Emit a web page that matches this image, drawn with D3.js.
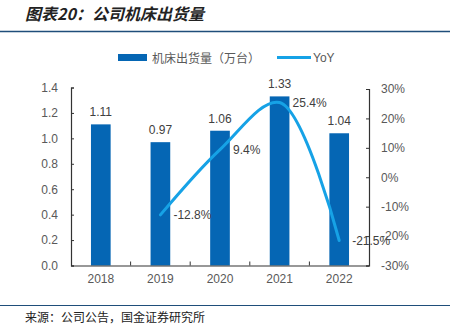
<!DOCTYPE html>
<html><head><meta charset="utf-8">
<script src="https://cdn.jsdelivr.net/npm/d3@7"></script>
<style>body{margin:0;background:#fff}svg{display:block}</style>
</head><body>
<svg id="c" width="450" height="326"></svg>
<script>
const years = ["2018","2019","2020","2021","2022"];
const shipments = [1.11, 0.97, 1.06, 1.33, 1.04];
const yoyYears = ["2019","2020","2021","2022"];
const yoy = [-12.8, 9.4, 25.4, -21.5];
const leftTicks = [0,0.2,0.4,0.6,0.8,1.0,1.2,1.4];
const rightTicks = [-30,-20,-10,0,10,20,30];
const title = "图表20：公司机床出货量";
const source = "来源：公司公告，国金证券研究所";
const legendBar = "机床出货量（万台）";
const legendLine = "YoY";

const svg = d3.select("#c");
const font = "'Liberation Sans', Arial, sans-serif";
const cjk = "'Noto Sans CJK SC', sans-serif";
const barColor = "#0566b4", lineColor = "#16a2e6", txt = "#595959";
const L = 71, R = 369, T = 87.5, B = 265.5;

svg.append("text").attr("x", 25).attr("y", 20).attr("font-family", cjk)
  .attr("font-size", 16).attr("font-weight", "bold").attr("font-style", "italic")
  .attr("fill", "#222").attr("transform", "skewX(0)").text(title);
svg.append("line").attr("x1", 0).attr("x2", 450).attr("y1", 31.5).attr("y2", 31.5)
  .attr("stroke", "#1f4e7a").attr("stroke-width", 1.5);
svg.append("line").attr("x1", 0).attr("x2", 450).attr("y1", 305.5).attr("y2", 305.5)
  .attr("stroke", "#1f4e7a").attr("stroke-width", 1.2);
svg.append("text").attr("x", 25).attr("y", 322).attr("font-family", cjk)
  .attr("font-size", 12).attr("fill", "#222").text(source);

const x = d3.scaleBand().domain(years).range([L, R]).paddingInner(0).paddingOuter(0);
const y = d3.scaleLinear().domain([0, 1.4]).range([B, T]);
const y2 = d3.scaleLinear().domain([-30, 30]).range([B, T + 1.5]);
const bw = x.bandwidth() * 0.33;

// bars
svg.selectAll("rect.bar").data(shipments).enter().append("rect")
  .attr("x", (d, i) => x(years[i]) + x.bandwidth() / 2 - bw / 2)
  .attr("y", d => y(d)).attr("width", bw).attr("height", d => y(0) - y(d))
  .attr("fill", barColor);
svg.selectAll("text.bl").data(shipments).enter().append("text")
  .attr("x", (d, i) => x(years[i]) + x.bandwidth() / 2)
  .attr("y", d => y(d) - 8).attr("text-anchor", "middle")
  .attr("font-family", font).attr("font-size", 12).attr("fill", "#404040")
  .text(d => d.toFixed(2));

// left axis
const la = svg.append("g").attr("transform", `translate(${L},0)`)
  .call(d3.axisLeft(y).tickValues(leftTicks).tickSize(-3).tickPadding(13).tickFormat(d3.format(".1f")));
// right axis
const ra = svg.append("g").attr("transform", `translate(${R},0)`)
  .call(d3.axisRight(y2).tickValues(rightTicks).tickSize(-3).tickPadding(12).tickFormat(d => d + "%"));
// bottom axis
const xa = svg.append("g").attr("transform", `translate(0,${B})`)
  .call(d3.axisBottom(x).tickSize(0).tickPadding(9));
xa.selectAll(".tick").each(function(d, i) {
  if (i > 0) d3.select(this).append("line").attr("x1", -x.bandwidth()/2).attr("x2", -x.bandwidth()/2)
    .attr("y1", 0).attr("y2", -4).attr("stroke", "#333");
});
[la, ra, xa].forEach(g => {
  g.select(".domain").attr("stroke", "#333").attr("stroke-width", 1.2);
  g.selectAll(".tick line").attr("stroke", "#333");
  g.selectAll("text").attr("font-family", font).attr("font-size", 12).attr("fill", txt);
});

// line
const line = d3.line().x((d, i) => x(yoyYears[i]) + x.bandwidth() / 2).y(d => y2(d))
  .curve(d3.curveCatmullRom.alpha(0.5));
svg.append("path").datum(yoy).attr("d", line).attr("fill", "none")
  .attr("stroke", lineColor).attr("stroke-width", 3).attr("stroke-linecap", "round");
svg.selectAll("text.ll").data(yoy).enter().append("text")
  .attr("x", (d, i) => x(yoyYears[i]) + x.bandwidth() / 2 + 13)
  .attr("y", d => y2(d) + 4.5)
  .attr("font-family", font).attr("font-size", 12).attr("fill", "#404040")
  .text(d => d.toFixed(1) + "%");

// legend
svg.append("rect").attr("x", 118).attr("y", 54).attr("width", 29).attr("height", 7).attr("fill", barColor);
svg.append("text").attr("x", 152).attr("y", 62.5).attr("font-family", cjk).attr("font-size", 12)
  .attr("fill", txt).text(legendBar);
svg.append("line").attr("x1", 277).attr("x2", 311).attr("y1", 57.5).attr("y2", 57.5)
  .attr("stroke", lineColor).attr("stroke-width", 3);
svg.append("text").attr("x", 313).attr("y", 62).attr("font-family", font).attr("font-size", 12)
  .attr("fill", txt).text(legendLine);
</script>
</body></html>
